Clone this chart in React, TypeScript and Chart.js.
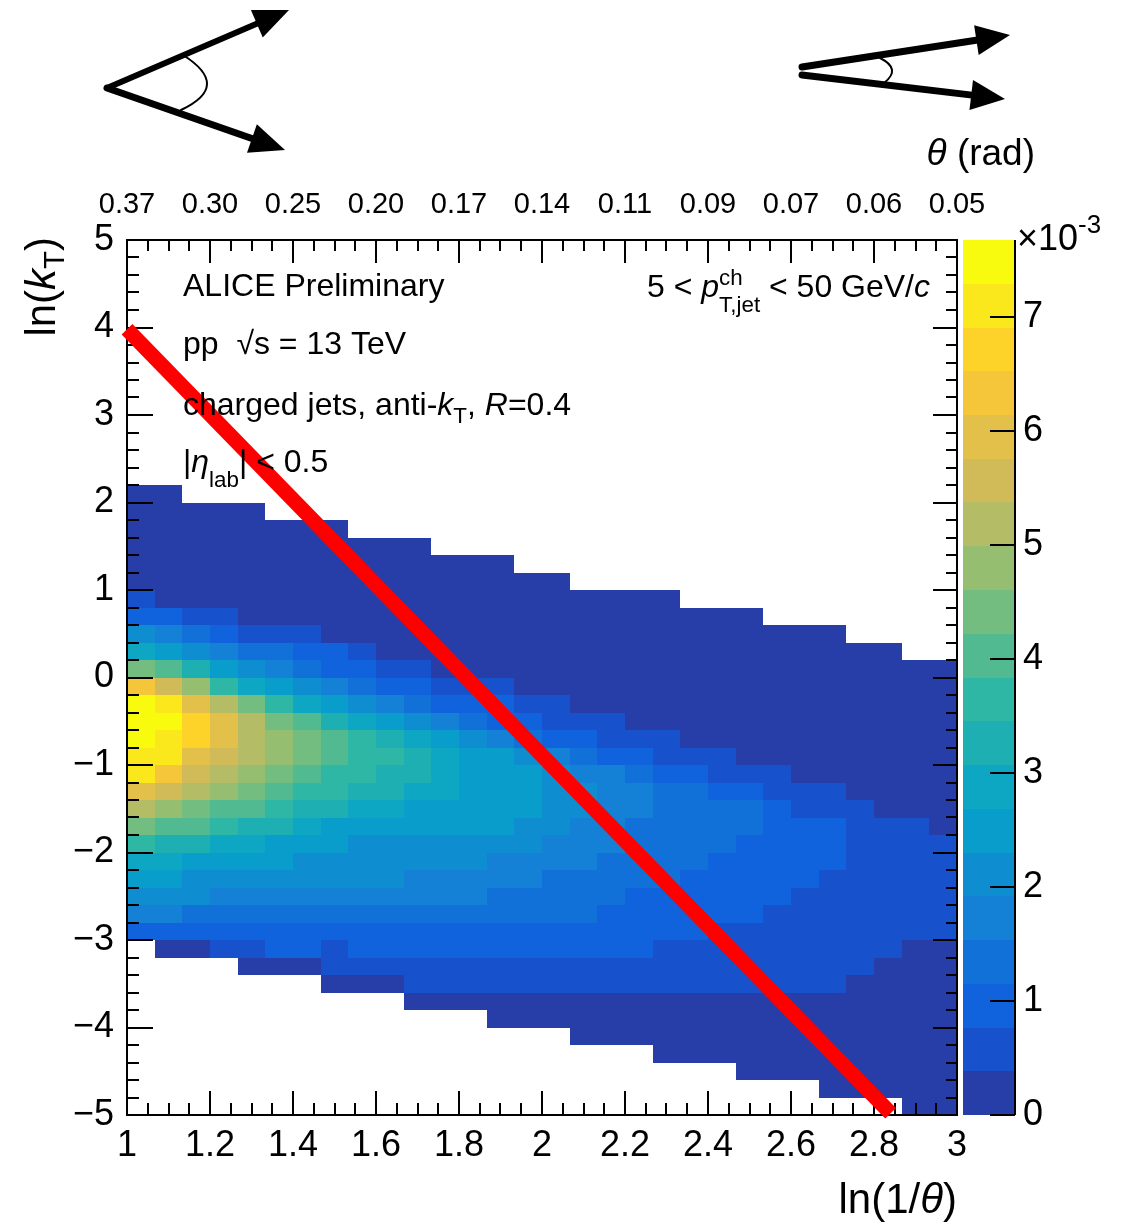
import React, { useEffect, useRef } from "react";
import { Chart, registerables } from "chart.js";

Chart.register(...registerables);

const FONT = '"Liberation Sans", Arial, Helvetica, sans-serif';

// ---- Lund-plane binning ----
const LN_INV_THETA_MIN = 1;
const LN_INV_THETA_MAX = 3;
const LN_INV_THETA_BINS = 30;
const LN_KT_TOP = 2.2; // upper edge of the first density row
const LN_KT_WIDTH = 0.2;

// ---- Colour scale (units of 10^-3), 20 contour levels ----
const Z_MAX = 7.68;
const Z_LEVELS = 20;

// ---- Per-bin primary Lund-plane density (x10^-3), rows from ln(kT)=2.2 downwards ----
const density: number[][] = [
  [0.2, 0.2, 0, 0, 0, 0, 0, 0, 0, 0, 0, 0, 0, 0, 0, 0, 0, 0, 0, 0, 0, 0, 0, 0, 0, 0, 0, 0, 0, 0],
  [0.2, 0.2, 0.2, 0.2, 0.2, 0, 0, 0, 0, 0, 0, 0, 0, 0, 0, 0, 0, 0, 0, 0, 0, 0, 0, 0, 0, 0, 0, 0, 0, 0],
  [0.2, 0.2, 0.2, 0.2, 0.2, 0.2, 0.2, 0.2, 0, 0, 0, 0, 0, 0, 0, 0, 0, 0, 0, 0, 0, 0, 0, 0, 0, 0, 0, 0, 0, 0],
  [0.2, 0.2, 0.2, 0.2, 0.2, 0.2, 0.2, 0.2, 0.2, 0.2, 0.2, 0, 0, 0, 0, 0, 0, 0, 0, 0, 0, 0, 0, 0, 0, 0, 0, 0, 0, 0],
  [0.2, 0.2, 0.2, 0.2, 0.2, 0.2, 0.2, 0.2, 0.2, 0.2, 0.2, 0.2, 0.2, 0.2, 0, 0, 0, 0, 0, 0, 0, 0, 0, 0, 0, 0, 0, 0, 0, 0],
  [0.2, 0.2, 0.2, 0.2, 0.2, 0.2, 0.2, 0.2, 0.2, 0.2, 0.2, 0.2, 0.2, 0.2, 0.2, 0.2, 0, 0, 0, 0, 0, 0, 0, 0, 0, 0, 0, 0, 0, 0],
  [0.6, 0.2, 0.2, 0.2, 0.2, 0.2, 0.2, 0.2, 0.2, 0.2, 0.2, 0.2, 0.2, 0.2, 0.2, 0.2, 0.2, 0.2, 0.2, 0.2, 0, 0, 0, 0, 0, 0, 0, 0, 0, 0],
  [1.0, 1.0, 0.6, 0.6, 0.2, 0.2, 0.2, 0.2, 0.2, 0.2, 0.2, 0.2, 0.2, 0.2, 0.2, 0.2, 0.2, 0.2, 0.2, 0.2, 0.2, 0.2, 0.2, 0, 0, 0, 0, 0, 0, 0],
  [2.1, 1.7, 1.3, 1.0, 0.6, 0.6, 0.6, 0.2, 0.2, 0.2, 0.2, 0.2, 0.2, 0.2, 0.2, 0.2, 0.2, 0.2, 0.2, 0.2, 0.2, 0.2, 0.2, 0.2, 0.2, 0.2, 0, 0, 0, 0],
  [2.9, 2.5, 2.1, 1.7, 1.3, 1.3, 1.0, 1.0, 0.6, 0.2, 0.2, 0.2, 0.2, 0.2, 0.2, 0.2, 0.2, 0.2, 0.2, 0.2, 0.2, 0.2, 0.2, 0.2, 0.2, 0.2, 0.2, 0.2, 0, 0],
  [4.4, 4.0, 3.3, 2.5, 2.1, 1.7, 1.3, 1.0, 1.0, 0.6, 0.6, 0.2, 0.2, 0.2, 0.2, 0.2, 0.2, 0.2, 0.2, 0.2, 0.2, 0.2, 0.2, 0.2, 0.2, 0.2, 0.2, 0.2, 0.2, 0.2],
  [6.3, 5.6, 4.8, 3.6, 2.9, 2.5, 2.1, 1.7, 1.3, 1.0, 1.0, 0.6, 0.6, 0.6, 0.2, 0.2, 0.2, 0.2, 0.2, 0.2, 0.2, 0.2, 0.2, 0.2, 0.2, 0.2, 0.2, 0.2, 0.2, 0.2],
  [7.5, 7.1, 5.9, 5.2, 4.4, 3.6, 2.9, 2.5, 2.1, 1.7, 1.3, 1.0, 1.0, 1.0, 0.6, 0.6, 0.2, 0.2, 0.2, 0.2, 0.2, 0.2, 0.2, 0.2, 0.2, 0.2, 0.2, 0.2, 0.2, 0.2],
  [7.5, 7.5, 6.7, 5.9, 5.2, 4.4, 4.0, 3.3, 2.9, 2.5, 2.1, 1.7, 1.3, 1.0, 1.0, 0.6, 0.6, 0.6, 0.2, 0.2, 0.2, 0.2, 0.2, 0.2, 0.2, 0.2, 0.2, 0.2, 0.2, 0.2],
  [7.5, 7.1, 6.7, 5.9, 5.2, 4.8, 4.4, 4.0, 3.6, 3.3, 2.9, 2.5, 2.1, 1.7, 1.3, 1.0, 1.0, 0.6, 0.6, 0.6, 0.2, 0.2, 0.2, 0.2, 0.2, 0.2, 0.2, 0.2, 0.2, 0.2],
  [7.1, 7.1, 5.9, 5.6, 5.2, 4.8, 4.4, 4.0, 3.6, 3.6, 3.3, 2.9, 2.5, 2.5, 2.1, 1.7, 1.3, 1.0, 1.0, 0.6, 0.6, 0.6, 0.2, 0.2, 0.2, 0.2, 0.2, 0.2, 0.2, 0.2],
  [7.1, 6.3, 5.6, 5.2, 4.8, 4.4, 4.0, 3.6, 3.6, 3.3, 3.3, 2.9, 2.5, 2.5, 2.5, 2.1, 1.7, 1.7, 1.3, 1.0, 1.0, 0.6, 0.6, 0.6, 0.2, 0.2, 0.2, 0.2, 0.2, 0.2],
  [5.9, 5.6, 5.2, 4.8, 4.4, 4.0, 3.6, 3.6, 3.3, 3.3, 2.9, 2.9, 2.5, 2.5, 2.5, 2.1, 2.1, 1.7, 1.7, 1.3, 1.3, 1.0, 1.0, 0.6, 0.6, 0.6, 0.2, 0.2, 0.2, 0.2],
  [5.2, 4.8, 4.4, 4.0, 4.0, 3.6, 3.3, 3.3, 2.9, 2.9, 2.5, 2.5, 2.5, 2.5, 2.5, 2.1, 2.1, 1.7, 1.7, 1.3, 1.3, 1.3, 1.3, 1.0, 0.6, 0.6, 0.6, 0.2, 0.2, 0.2],
  [4.4, 4.0, 4.0, 3.6, 3.3, 3.3, 2.9, 2.5, 2.5, 2.5, 2.5, 2.5, 2.5, 2.5, 2.1, 2.1, 1.7, 1.7, 1.3, 1.3, 1.3, 1.3, 1.3, 1.0, 1.0, 1.0, 0.6, 0.6, 0.6, 0.2],
  [3.6, 3.3, 3.3, 2.9, 2.9, 2.5, 2.5, 2.5, 2.1, 2.1, 2.1, 2.1, 2.1, 2.1, 2.1, 1.7, 1.7, 1.7, 1.3, 1.3, 1.3, 1.3, 1.0, 1.0, 1.0, 1.0, 0.6, 0.6, 0.6, 0.6],
  [2.9, 2.9, 2.5, 2.5, 2.5, 2.5, 2.1, 2.1, 2.1, 2.1, 2.1, 2.1, 2.1, 1.7, 1.7, 1.7, 1.7, 1.3, 1.3, 1.3, 1.3, 1.0, 1.0, 1.0, 1.0, 1.0, 0.6, 0.6, 0.6, 0.6],
  [2.5, 2.5, 2.1, 2.1, 2.1, 2.1, 2.1, 2.1, 2.1, 2.1, 1.7, 1.7, 1.7, 1.7, 1.7, 1.3, 1.3, 1.3, 1.3, 1.3, 1.0, 1.0, 1.0, 1.0, 1.0, 0.6, 0.6, 0.6, 0.6, 0.6],
  [2.1, 2.1, 2.1, 1.7, 1.7, 1.7, 1.7, 1.7, 1.7, 1.7, 1.7, 1.7, 1.7, 1.3, 1.3, 1.3, 1.3, 1.3, 1.0, 1.0, 1.0, 1.0, 1.0, 1.0, 0.6, 0.6, 0.6, 0.6, 0.6, 0.6],
  [1.7, 1.7, 1.3, 1.3, 1.3, 1.3, 1.3, 1.3, 1.3, 1.3, 1.3, 1.3, 1.3, 1.3, 1.3, 1.3, 1.3, 1.0, 1.0, 1.0, 1.0, 1.0, 1.0, 0.6, 0.6, 0.6, 0.6, 0.6, 0.6, 0.6],
  [1.0, 1.0, 1.0, 1.0, 1.0, 1.0, 1.0, 1.0, 1.0, 1.0, 1.0, 1.0, 1.0, 1.0, 1.0, 1.0, 1.0, 1.0, 1.0, 1.0, 1.0, 0.6, 0.6, 0.6, 0.6, 0.6, 0.6, 0.6, 0.6, 0.6],
  [0, 0.2, 0.2, 0.6, 0.6, 1.0, 1.0, 0.6, 1.0, 1.0, 1.0, 1.0, 1.0, 1.0, 1.0, 1.0, 1.0, 1.0, 1.0, 0.6, 0.6, 0.6, 0.6, 0.6, 0.6, 0.6, 0.6, 0.6, 0.2, 0.2],
  [0, 0, 0, 0, 0.2, 0.2, 0.2, 0.6, 0.6, 0.6, 0.6, 0.6, 0.6, 0.6, 0.6, 0.6, 0.6, 0.6, 0.6, 0.6, 0.6, 0.6, 0.6, 0.6, 0.6, 0.6, 0.6, 0.2, 0.2, 0.2],
  [0, 0, 0, 0, 0, 0, 0, 0.2, 0.2, 0.2, 0.6, 0.6, 0.6, 0.6, 0.6, 0.6, 0.6, 0.6, 0.6, 0.6, 0.6, 0.6, 0.6, 0.6, 0.6, 0.6, 0.2, 0.2, 0.2, 0.2],
  [0, 0, 0, 0, 0, 0, 0, 0, 0, 0, 0.2, 0.2, 0.2, 0.2, 0.2, 0.2, 0.2, 0.2, 0.2, 0.2, 0.2, 0.2, 0.2, 0.2, 0.2, 0.2, 0.2, 0.2, 0.2, 0.2],
  [0, 0, 0, 0, 0, 0, 0, 0, 0, 0, 0, 0, 0, 0.2, 0.2, 0.2, 0.2, 0.2, 0.2, 0.2, 0.2, 0.2, 0.2, 0.2, 0.2, 0.2, 0.2, 0.2, 0.2, 0.2],
  [0, 0, 0, 0, 0, 0, 0, 0, 0, 0, 0, 0, 0, 0, 0, 0, 0.2, 0.2, 0.2, 0.2, 0.2, 0.2, 0.2, 0.2, 0.2, 0.2, 0.2, 0.2, 0.2, 0.2],
  [0, 0, 0, 0, 0, 0, 0, 0, 0, 0, 0, 0, 0, 0, 0, 0, 0, 0, 0, 0.2, 0.2, 0.2, 0.2, 0.2, 0.2, 0.2, 0.2, 0.2, 0.2, 0.2],
  [0, 0, 0, 0, 0, 0, 0, 0, 0, 0, 0, 0, 0, 0, 0, 0, 0, 0, 0, 0, 0, 0, 0.2, 0.2, 0.2, 0.2, 0.2, 0.2, 0.2, 0.2],
  [0, 0, 0, 0, 0, 0, 0, 0, 0, 0, 0, 0, 0, 0, 0, 0, 0, 0, 0, 0, 0, 0, 0, 0, 0, 0.2, 0.2, 0.2, 0.2, 0.2],
  [0, 0, 0, 0, 0, 0, 0, 0, 0, 0, 0, 0, 0, 0, 0, 0, 0, 0, 0, 0, 0, 0, 0, 0, 0, 0, 0, 0, 0.2, 0.2],
];

// ---- Axis ticks ----
const xTickValues = [1, 1.2, 1.4, 1.6, 1.8, 2, 2.2, 2.4, 2.6, 2.8, 3];
const xTickLabels = ["1", "1.2", "1.4", "1.6", "1.8", "2", "2.2", "2.4", "2.6", "2.8", "3"];
const thetaTickLabels = ["0.37", "0.30", "0.25", "0.20", "0.17", "0.14", "0.11", "0.09", "0.07", "0.06", "0.05"];
const yTickValues = [-5, -4, -3, -2, -1, 0, 1, 2, 3, 4, 5];
const yTickLabels = ["\u22125", "\u22124", "\u22123", "\u22122", "\u22121", "0", "1", "2", "3", "4", "5"];
const zTickValues = [0, 1, 2, 3, 4, 5, 6, 7];
const zTickLabels = ["0", "1", "2", "3", "4", "5", "6", "7"];

// ---- Red guide line across the plane ----
const guideLnInvTheta = [1.0, 2.84];
const guideLnKt = [3.98, -4.98];

// ---- ROOT "bird" palette ----
const BIRD_STOPS = [0.0, 0.125, 0.25, 0.375, 0.5, 0.625, 0.75, 0.875, 1.0];
const BIRD_R = [0.2082, 0.0592, 0.078, 0.0232, 0.1802, 0.5301, 0.8186, 0.9956, 0.9764];
const BIRD_G = [0.1664, 0.3599, 0.5041, 0.6419, 0.7178, 0.7492, 0.7328, 0.7862, 0.9832];
const BIRD_B = [0.5293, 0.8684, 0.8385, 0.7914, 0.6425, 0.4662, 0.3499, 0.1968, 0.0539];

function birdColor(f: number): string {
  let s = 0;
  while (s < BIRD_STOPS.length - 2 && f > BIRD_STOPS[s + 1]) s++;
  const t = (f - BIRD_STOPS[s]) / (BIRD_STOPS[s + 1] - BIRD_STOPS[s]);
  const c = (a: number[]) => Math.round(255 * (a[s] + t * (a[s + 1] - a[s])));
  return `rgb(${c(BIRD_R)},${c(BIRD_G)},${c(BIRD_B)})`;
}

const LEVEL_COLORS = Array.from({ length: Z_LEVELS }, (_, k) =>
  birdColor(Math.floor(((k + 0.99) * 255) / Z_LEVELS) / 254)
);
const LEVEL_STEP = Z_MAX / Z_LEVELS;
const levelColor = (v: number) => LEVEL_COLORS[Math.min(Z_LEVELS - 1, Math.floor(v / LEVEL_STEP))];

// ---- Rich text helper (italics, sub/superscripts) ----
type Run = {
  text?: string;
  italic?: boolean;
  scale?: number;
  dy?: number;
  stack?: { sup: string; sub: string; supDy: number; subDy: number; scale: number };
};

const runFont = (size: number, italic?: boolean) => `${italic ? "italic " : ""}${size}px ${FONT}`;

function drawRich(
  ctx: CanvasRenderingContext2D,
  runs: Run[],
  x: number,
  y: number,
  size: number,
  align: "left" | "right" = "left"
) {
  const widths = runs.map((r) => {
    if (r.stack) {
      ctx.font = runFont(size * r.stack.scale);
      return Math.max(ctx.measureText(r.stack.sup).width, ctx.measureText(r.stack.sub).width);
    }
    ctx.font = runFont(size * (r.scale ?? 1), r.italic);
    return ctx.measureText(r.text ?? "").width;
  });
  let cx = align === "right" ? x - widths.reduce((a, b) => a + b, 0) : x;
  ctx.textAlign = "left";
  ctx.textBaseline = "alphabetic";
  ctx.fillStyle = "#000";
  runs.forEach((r, i) => {
    if (r.stack) {
      ctx.font = runFont(size * r.stack.scale);
      ctx.fillText(r.stack.sup, cx, y + r.stack.supDy);
      ctx.fillText(r.stack.sub, cx, y + r.stack.subDy);
    } else {
      ctx.font = runFont(size * (r.scale ?? 1), r.italic);
      ctx.fillText(r.text ?? "", cx, y + (r.dy ?? 0));
    }
    cx += widths[i];
  });
}

function drawArrow(
  ctx: CanvasRenderingContext2D,
  x0: number,
  y0: number,
  x1: number,
  y1: number,
  width: number,
  headLen: number,
  headHalf: number
) {
  const L = Math.hypot(x1 - x0, y1 - y0);
  const ux = (x1 - x0) / L;
  const uy = (y1 - y0) / L;
  const bx = x1 - ux * headLen;
  const by = y1 - uy * headLen;
  ctx.lineWidth = width;
  ctx.lineCap = "round";
  ctx.beginPath();
  ctx.moveTo(x0, y0);
  ctx.lineTo(bx + ux * 3, by + uy * 3);
  ctx.stroke();
  ctx.beginPath();
  ctx.moveTo(x1, y1);
  ctx.lineTo(bx - uy * headHalf, by + ux * headHalf);
  ctx.lineTo(bx + uy * headHalf, by - ux * headHalf);
  ctx.closePath();
  ctx.fill();
}

// Histogram cells, colour bar and the ROOT-style frame with inward ticks
const lundPlanePlugin = {
  id: "lundPlane",
  beforeDatasetsDraw(chart: any) {
    const { ctx, chartArea: a } = chart;
    const xs = chart.scales.x;
    const ys = chart.scales.y;
    const zs = chart.scales.z;
    const binW = (LN_INV_THETA_MAX - LN_INV_THETA_MIN) / LN_INV_THETA_BINS;
    const ktEdge = (i: number) => Math.round(ys.getPixelForValue(LN_KT_TOP - i * LN_KT_WIDTH));
    const thEdge = (j: number) => Math.round(xs.getPixelForValue(LN_INV_THETA_MIN + j * binW));
    ctx.save();

    density.forEach((row, i) => {
      const py0 = ktEdge(i);
      const py1 = ktEdge(i + 1);
      row.forEach((v, j) => {
        if (v <= 0) return;
        const px0 = thEdge(j);
        const px1 = thEdge(j + 1);
        ctx.fillStyle = levelColor(v);
        ctx.fillRect(px0, py0, px1 - px0, py1 - py0);
      });
    });

    // colour bar
    const cbL = a.right + 6;
    const cbR = a.right + 58;
    for (let k = 0; k < Z_LEVELS; k++) {
      const y0 = Math.round(zs.getPixelForValue(k * LEVEL_STEP));
      const y1 = Math.round(zs.getPixelForValue((k + 1) * LEVEL_STEP));
      ctx.fillStyle = LEVEL_COLORS[k];
      ctx.fillRect(cbL, y1, cbR - cbL, y0 - y1);
    }
    ctx.strokeStyle = "#000";
    ctx.lineWidth = 2;
    ctx.beginPath();
    ctx.moveTo(cbR, zs.getPixelForValue(Z_MAX));
    ctx.lineTo(cbR, zs.getPixelForValue(0));
    zTickValues.forEach((v) => {
      const py = Math.round(zs.getPixelForValue(v));
      ctx.moveTo(cbR - 25, py);
      ctx.lineTo(cbR, py);
    });
    ctx.stroke();

    // frame ticks
    ctx.beginPath();
    for (let i = 0; i <= 40; i++) {
      const px = Math.round(xs.getPixelForValue(LN_INV_THETA_MIN + i * 0.05));
      const major = i % 4 === 0;
      ctx.moveTo(px, a.bottom);
      ctx.lineTo(px, a.bottom - (major ? 24 : 12));
      ctx.moveTo(px, a.top);
      ctx.lineTo(px, a.top + (major ? 23 : 11));
    }
    for (let i = 0; i <= 50; i++) {
      const py = Math.round(ys.getPixelForValue(-5 + i * 0.2));
      const major = i % 5 === 0;
      ctx.moveTo(a.left, py);
      ctx.lineTo(a.left + (major ? 26 : 12), py);
      ctx.moveTo(a.right, py);
      ctx.lineTo(a.right - (major ? 24 : 11), py);
    }
    ctx.stroke();
    ctx.strokeRect(a.left, a.top, a.right - a.left, a.bottom - a.top);
    ctx.restore();
  },
};

// Axis titles, labels and the two opening-angle sketches
const annotationPlugin = {
  id: "annotations",
  afterDraw(chart: any) {
    const { ctx, chartArea: a } = chart;
    ctx.save();

    drawRich(ctx, [{ text: "ALICE Preliminary" }], 183, 296, 32);
    drawRich(ctx, [{ text: "pp  \u221As = 13 TeV" }], 183, 354, 32);
    drawRich(
      ctx,
      [
        { text: "charged jets, anti-" },
        { text: "k", italic: true },
        { text: "T", scale: 0.7, dy: 8 },
        { text: ", " },
        { text: "R", italic: true },
        { text: "=0.4" },
      ],
      183,
      415,
      32
    );
    drawRich(
      ctx,
      [
        { text: "|" },
        { text: "\u03B7", italic: true },
        { text: "lab", scale: 0.7, dy: 15 },
        { text: "| < 0.5" },
      ],
      183,
      472,
      32
    );
    drawRich(
      ctx,
      [
        { text: "5 < " },
        { text: "p", italic: true },
        { stack: { sup: "ch", sub: "T,jet", supDy: -12, subDy: 15, scale: 0.7 } },
        { text: " < 50 GeV/" },
        { text: "c", italic: true },
      ],
      930,
      297,
      32,
      "right"
    );

    // axis titles
    drawRich(ctx, [{ text: "ln(1/" }, { text: "\u03B8", italic: true }, { text: ")" }], a.right, 1213, 42, "right");
    drawRich(ctx, [{ text: "\u03B8", italic: true }, { text: " (rad)" }], 1035, 165, 37, "right");
    ctx.save();
    ctx.translate(55, a.top - 3);
    ctx.rotate(-Math.PI / 2);
    drawRich(
      ctx,
      [{ text: "ln(" }, { text: "k", italic: true }, { text: "T", scale: 0.7, dy: 9 }, { text: ")" }],
      0,
      0,
      42,
      "right"
    );
    ctx.restore();

    // colour-bar exponent
    drawRich(ctx, [{ text: "\u00D710" }, { text: "-3", scale: 0.72, dy: -17 }], a.right + 60, 250, 36);

    // opening-angle sketches
    ctx.fillStyle = "#000";
    ctx.strokeStyle = "#000";
    drawArrow(ctx, 107, 88, 289, 10, 6, 35, 15);
    drawArrow(ctx, 107, 88, 285, 150, 7, 35, 15);
    ctx.lineWidth = 2;
    ctx.beginPath();
    ctx.moveTo(183, 55);
    ctx.quadraticCurveTo(232, 86, 181, 110);
    ctx.stroke();

    drawArrow(ctx, 802, 67, 1010, 35, 7, 34, 15);
    drawArrow(ctx, 802, 75, 1005, 99, 7, 34, 15);
    ctx.lineWidth = 2;
    ctx.beginPath();
    ctx.moveTo(880, 58);
    ctx.quadraticCurveTo(902, 69, 884, 83);
    ctx.stroke();

    ctx.restore();
  },
};

export default function App() {
  const canvasRef = useRef<HTMLCanvasElement | null>(null);

  useEffect(() => {
    if (!canvasRef.current) return;
    Chart.defaults.font.family = FONT;
    const tickFont = { family: FONT, size: 36 };
    const chart = new Chart(canvasRef.current, {
      type: "scatter",
      data: {
        datasets: [
          {
            data: guideLnInvTheta.map((x, i) => ({ x, y: guideLnKt[i] })),
            showLine: true,
            borderColor: "#ff0000",
            borderWidth: 15,
            borderCapStyle: "butt",
            pointRadius: 0,
            clip: false,
            xAxisID: "x",
            yAxisID: "y",
          } as any,
        ],
      },
      options: {
        responsive: false,
        animation: false,
        events: [],
        layout: { padding: 0 },
        plugins: { legend: { display: false }, tooltip: { enabled: false }, title: { display: false } },
        scales: {
          x: {
            type: "linear",
            position: "bottom",
            min: LN_INV_THETA_MIN,
            max: LN_INV_THETA_MAX,
            grid: { display: false },
            border: { display: false },
            afterBuildTicks: (s: any) => {
              s.ticks = xTickValues.map((value) => ({ value }));
            },
            afterFit: (s: any) => {
              s.height = 109;
            },
            ticks: {
              font: tickFont,
              color: "#000",
              padding: 1,
              autoSkip: false,
              maxRotation: 0,
              minRotation: 0,
              callback: (_v: any, i: number) => xTickLabels[i],
            },
          },
          x2: {
            type: "linear",
            position: "top",
            min: LN_INV_THETA_MIN,
            max: LN_INV_THETA_MAX,
            grid: { display: false },
            border: { display: false },
            afterBuildTicks: (s: any) => {
              s.ticks = xTickValues.map((value) => ({ value }));
            },
            afterFit: (s: any) => {
              s.height = 240;
            },
            ticks: {
              font: { family: FONT, size: 29 },
              color: "#000",
              padding: 10,
              autoSkip: false,
              maxRotation: 0,
              minRotation: 0,
              callback: (_v: any, i: number) => thetaTickLabels[i],
            },
          },
          y: {
            type: "linear",
            position: "left",
            min: -5,
            max: 5,
            grid: { display: false },
            border: { display: false },
            afterBuildTicks: (s: any) => {
              s.ticks = yTickValues.map((value) => ({ value }));
            },
            afterFit: (s: any) => {
              s.width = 127;
            },
            ticks: {
              font: tickFont,
              color: "#000",
              padding: 5,
              autoSkip: false,
              callback: (_v: any, i: number) => yTickLabels[i],
            },
          },
          z: {
            type: "linear",
            position: "right",
            min: 0,
            max: Z_MAX,
            grid: { display: false },
            border: { display: false },
            afterBuildTicks: (s: any) => {
              s.ticks = zTickValues.map((value) => ({ value }));
            },
            afterFit: (s: any) => {
              s.width = 170;
            },
            ticks: {
              font: tickFont,
              color: "#000",
              padding: 58,
              autoSkip: false,
              callback: (_v: any, i: number) => zTickLabels[i],
            },
          },
        },
      } as any,
      plugins: [lundPlanePlugin, annotationPlugin],
    });
    return () => chart.destroy();
  }, []);

  return (
    <div style={{ position: "absolute", left: 0, top: 0, width: 1127, height: 1224, background: "#fff" }}>
      <canvas ref={canvasRef} width={1127} height={1224} style={{ display: "block", width: 1127, height: 1224 }} />
    </div>
  );
}
